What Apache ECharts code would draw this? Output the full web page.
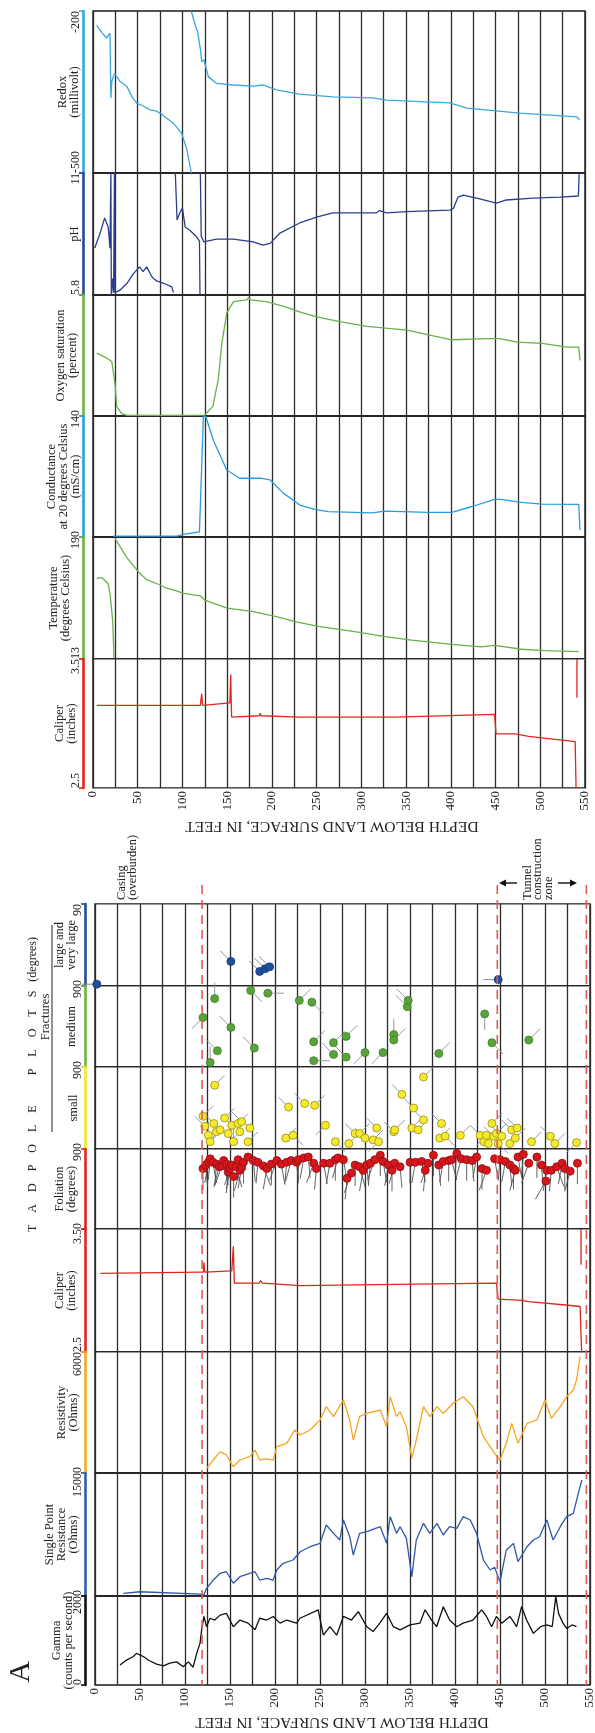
<!DOCTYPE html>
<html><head><meta charset="utf-8">
<script src="https://cdn.jsdelivr.net/npm/echarts@6/dist/echarts.min.js"></script>
<style>html,body{margin:0;padding:0;background:#fff}#c{width:595px;height:1733px}</style>
</head><body><div id="c"></div>
<script>
// ---------------- DATA (depth in feet, value) ----------------
const depthTicks = [0,50,100,150,200,250,300,350,400,450,500,550];
const redoxTicks = [-500,-200];
const phTicks = [5.8,11];
const oxygenTicks = [0];
const conductanceTicks = [0,14];
const temperatureTicks = [13,19];
const caliperTicks = [2.5,3.5];
const tadpoleTicks = [0,90];
const resistivityTicks = [0,6000];
const sprTicks = [0,1500];
const gammaTicks = [0,200];

const redox = [[4,-226],[10,-240],[15,-250],[19,-241],[20,-361],[21,-330],[24,-316],[30,-330],[38,-340],[44,-360],[49,-371],[55,-375],[64,-383],[70,-385],[75,-389],[82,-398],[90,-408],[99,-426],[105,-457],[110,-500],null,[110,-201],[115,-230],[117,-239],[120,-270],[121.5,-294],[124,-290],[129,-322],[138,-334],[157,-337],[179,-339],[190,-337],[205,-346],[231,-354],[268,-359],[313,-361],[328,-365],[399,-370],[406,-374],[418,-380],[477,-389],[541,-396],[544,-402]];
const ph = [[2,7.8],[8,8.44],[13,9.08],[17,8.7],[19,7.8],[20,11],[20.5,5.8],[22,6.5],[23,5.9],[24,11],[24.6,5.9],[30,6.0],[38,6.3],[45,6.7],[52,7.0],[56,6.8],[60,7.0],[66,6.57],[71,6.4],[79,6.3],[88,6.15],[90,5.9],null,[92,11],[94,9.0],[97,9.3],[100,9.5],[103,8.7],[108,8.57],[116,8.27],[119,8.1],[119.6,5.8],null,[120,11],[121,8.3],[124,8.06],[138,8.18],[157,8.18],[179,8.06],[190,7.93],[198,8.0],[209,8.44],[231,8.87],[250,9.12],[268,9.3],[317,9.3],[320,9.4],[328,9.3],[351,9.35],[399,9.42],[403,9.5],[408,9.97],[414,10.06],[429,9.93],[451,9.72],[462,9.85],[492,9.93],[522,9.97],[542.6,10.02],[543.5,11]];
const oxygen = [[4,52],[15,48],[21,45],[24.6,27],[26.5,8],[32,2],[38,0.5],[50,0.5],[52,2],[54,0.5],[100,0.5],[125,0.8],[134,8],[140,30],[144,60],[149.5,85],[157,94.5],[172,96],[174,98],[176,96],[194,94.5],[216,90],[231,86],[250,82],[276,78],[306,74],[351,71],[401,63],[440,64],[455,64],[474,61],[502,60],[530,57],[543,57],[544.4,46]];
const conductance = [[22.7,0.1],[60,0.1],[93.6,0.1],[101,0.3],[119,0.6],[123.4,13.9],[126,13.97],[134.5,11.2],[149.5,7.75],[164,6.8],[187,6.8],[198,6.6],[213,5.05],[226,4.1],[231,3.7],[248,3.2],[263,2.93],[312,2.8],[326,3.0],[375,2.85],[401,2.85],[423,3.5],[449,4.36],[456,4.36],[479,4.0],[502,3.8],[543,3.78],[544.4,0.8]];
const temperature = [[4,16.97],[10,17.0],[17,16.7],[19,16.2],[22,14.9],[23.5,13.05],null,[24.6,18.93],[37.6,18.0],[52.5,17.2],[60,16.9],[75,16.64],[82,16.48],[90,16.4],[101,16.23],[120,16.1],[125,15.9],[150,15.5],[179,15.33],[205,15.08],[227,14.83],[252,14.6],[300,14.3],[326,14.1],[356,13.93],[401,13.72],[434,13.6],[449,13.67],[479,13.48],[505,13.41],[543,13.36]];
const caliperB = [[4,3.14],[101,3.14],[120,3.14],[121.5,3.23],[122.5,3.14],[153,3.16],[154,3.38],[154.5,3.16],[155,3.05],[186,3.06],[187,3.08],[188,3.06],[231,3.05],[338,3.05],[449,3.07],[450.5,2.92],[472,2.92],[487,2.9],[539,2.86],[540,2.5],null,[541,3.5],[541,3.2]];
const caliperA = [[6,3.14],[117,3.15],[120.5,3.15],[121,3.23],[122,3.15],[152,3.16],[153.7,3.36],[154.8,3.06],[182,3.06],[184,3.08],[186,3.06],[228,3.04],[333,3.05],[446,3.06],[448,2.93],[474,2.92],[481.5,2.91],[526,2.88],[539,2.87],[540.7,2.5],null,[540,3.5],[540,3.21]];
const resistivity = [[124,231],[131.5,645],[139,1057],[146,893],[153.7,314],[161,645],[172,810],[177.8,1140],[183,645],[190,700],[198,645],[202,1306],[213,1471],[222,2132],[228,1884],[239,2132],[250,2628],[257,3289],[265,2793],[276,3620],[283,2628],[287,1636],[294,2793],[302,2959],[317,3124],[324,2297],[328,3785],[335,2793],[339,3041],[346,2297],[352,727],[357,1636],[365,3289],[372,2793],[380,3289],[387,2959],[398,3455],[409,3785],[420,3289],[431.5,1801],[439,1306],[444,975],[450,645],[457,1471],[463,2462],[470,1471],[480,2462],[491,2628],[500,3620],[507,2710],[517,3289],[524,3785],[531.5,4116],[535,4612],[539,5767]];
const spr = [[31.5,33],[50,52],[116.7,24],[121,12],[124,94],[131.5,195],[139,277],[146,296],[153.7,155],[161,235],[172,277],[177.8,296],[183,195],[190.7,216],[198,195],[202,317],[209,399],[220,439],[228,540],[239,601],[250,642],[257,866],[265,764],[272,683],[276,927],[283,723],[287,500],[294,764],[302,784],[317,845],[324,642],[328,967],[335,764],[339,845],[346,703],[352,236],[357,683],[365,886],[372,764],[380,886],[387,744],[394,845],[402,825],[409,967],[417,927],[424,764],[431.5,439],[439,317],[444,350],[450,175],[457,561],[465,642],[470,419],[480,601],[487,683],[494,723],[502,927],[509,683],[517,845],[524,967],[531.5,1008],[537,1252],[541,1415]];
const gamma = [[27.8,45],[35,56],[42.6,64],[46,71],[53.7,64],[60,55],[68.5,47],[76,43],[83,49],[90.7,52],[98,41],[103.7,52],[109,40],[113,71],[116.7,94],[118.5,124],[121,154],[124,131],[127.8,150],[133,146],[139,157],[146,161],[153.7,131],[161,146],[170,139],[177.8,124],[183,150],[190.7,146],[198,154],[205.6,139],[213,146],[224,139],[227.8,150],[248,169],[253.7,112],[261,131],[268.5,112],[276,154],[285,146],[292.6,165],[302,131],[309,120],[316,138],[324,161],[331.5,131],[339,124],[350,135],[361,139],[366.7,169],[374,146],[379.6,131],[387,176],[394,146],[402,131],[409,139],[420,146],[429.6,169],[435,154],[440.7,131],[446,154],[452,139],[461,154],[468.5,131],[474,176],[479.6,146],[487,116],[495,131],[502,135],[508,131],[512,199],[515,161],[520,139],[524,127],[530,135],[535,131]];

// tadpoles: [depth, dip (degrees), azimuth (degrees)]
const foliation = [[120,68,270],[123,72,265],[126,75,280],[128,79,275],[131,75,260],[135,73,275],[138,70,285],[141,71,290],[143,77,260],[146,73,265],[148,64,275],[150,68,280],[152,72,290],[154,59,270],[157,70,255],[159,78,270],[161,66,285],[163,69,280],[165,75,270],[170,81,300],[176,77,265],[181,75,275],[187,71,250],[191,68,280],[196,73,270],[202,77,290],[207,73,260],[213,75,275],[218,77,285],[224,75,265],[226,78,270],[232,80,280],[237,81,265],[243,74,290],[246,68,275],[254,74,260],[261,74,280],[267,78,270],[270,80,285],[276,78,260],[280,57,275],[285,63,290],[289,72,270],[294,70,255],[298,66,280],[302,72,265],[306,74,275],[311,78,290],[317,83,270],[320,76,260],[326,72,280],[330,66,270],[333,74,285],[339,70,265],[350,75,270],[356,75,280],[363,76,260],[367,66,275],[370,74,290],[376,83,270],[382,72,265],[387,76,280],[393,77,270],[396,78,255],[402,85,275],[407,79,285],[413,78,270],[419,77,265],[424,81,280],[430,68,270],[435,66,290],[444,79,260],[450,78,275],[456,76,280],[461,72,265],[465,68,270],[467,66,285],[470,81,260],[476,84,275],[482,74,290],[491,81,270],[496,72,265],[502,66,280],[501,54,300],[507,66,275],[513,70,250],[519,74,280],[522,68,270],[528,65,285],[536,74,270]];
const smallFractures = [[120,36,135],[122,25,45],[126,15,90],[128,8,135],[132,28,45],[133,70,135],[135,19,300],[139,21,45],[144,34,135],[148,17,225],[152,26,45],[154,8,90],[159,28,135],[161,19,315],[163,30,45],[170,8,135],[172,23,45],[212,12,135],[215,46,45],[220,15,225],[233,50,45],[244,48,135],[256,26,315],[267,8,225],[282,6,135],[289,17,45],[294,17,135],[300,12,45],[309,10,135],[313,23,45],[315,8,315],[332,19,45],[333,21,135],[341,60,45],[352,23,135],[354,45,45],[359,21,135],[365,32,45],[365,79,135],[383,12,135],[385,28,45],[389,14,225],[406,15,135],[428,15,45],[432,8,135],[435,15,315],[437,6,45],[441,28,135],[443,14,45],[446,17,135],[448,6,225],[452,14,45],[461,6,135],[463,21,45],[467,12,135],[469,23,45],[485,8,135],[506,14,45],[511,6,135],[535,7,315]];
const mediumFractures = [[120,55,315],[128,5,90],[133,76,90],[136,18,45],[151,44,45],[173,85,225],[177,21,45],[192,82,180],[227,74,135],[241,72,225],[243,7,180],[243,28,135],[265,27,135],[265,14,45],[279,34,135],[279,11,45],[300,16,315],[320,16,315],[332,36,90],[332,30,135],[347,67,45],[348,74,45],[382,15,135],[433,59,270],[441,27,225],[482,30,135]];
const largeFractures = [[2,2,0],[151,27,45],[183,16,45],[189,19,45],[194,21,45],[448,7,0]];

const markerDepths = [119,447,546]; // casing bottom, tunnel construction zone

// ---------------- LAYOUT / STYLE ----------------
const FONT = '"Liberation Serif","Times New Roman",serif';
const tracks = [
 {name:'Redox\n(millivolt)', gap:2, top:11,bottom:173,left:93,right:585,min:-500,max:-200,ticks:redoxTicks,axis:'#35a8e0',line:'#3aa7e0',data:redox},
 {name:'pH', gap:2, top:173,bottom:295,left:93,right:585,min:5.8,max:11,ticks:phTicks,axis:'#27479b',line:'#2a3f8f',data:ph},
 {name:'Oxygen saturation\n(percent)', gap:4, top:295,bottom:416,left:93,right:585,min:0,max:100,ticks:oxygenTicks,axis:'#6db33f',line:'#6ab04c',data:oxygen},
 {name:'Conductance\nat 20 degrees Celsius\n(mS/cm)', gap:1, top:416,bottom:537,left:93,right:585,min:0,max:14,ticks:conductanceTicks,axis:'#2a9ee0',line:'#2a9be0',data:conductance},
 {name:'Temperature\n(degrees Celsius)', gap:11, top:537,bottom:659,left:93,right:585,min:13,max:19,ticks:temperatureTicks,axis:'#6db33f',line:'#6ab04c',data:temperature},
 {name:'Caliper\n(inches)', gap:5, top:659,bottom:788,left:93,right:585,min:2.5,max:3.5,step:0.5,ticks:caliperTicks,axis:'#e2231a',line:'#e0261c',data:caliperB,depthLabels:true},
 {name:'large and\nvery large', gap:7, top:904,bottom:986,left:95,right:590,min:0,max:90,step:30,ticks:tadpoleTicks,axis:'#1f4e9c',tad:largeFractures,fill:'#1f4e9c',stroke:'#123a78',tail:'#7a7f8c',len:15},
 {name:'medium', gap:7, top:986,bottom:1067,left:95,right:590,min:0,max:90,step:30,ticks:tadpoleTicks,axis:'#6db33f',tad:mediumFractures,fill:'#5aa33a',stroke:'#3f7f27',tail:'#8a8c9c',len:16},
 {name:'small', gap:5, top:1067,bottom:1149,left:95,right:590,min:0,max:90,step:30,ticks:tadpoleTicks,axis:'#f2e829',tad:smallFractures,fill:'#f5ea2e',stroke:'#9a8f10',tail:'#7f8fb0',len:14},
 {name:'Foliation\n(degrees)', gap:7, top:1149,bottom:1229,left:95,right:590,min:0,max:90,step:30,ticks:tadpoleTicks,axis:'#e2231a',tad:foliation,fill:'#d7161c',stroke:'#8e0d10',tail:'#4d5552',len:21},
 {name:'Caliper\n(inches)', gap:7, top:1229,bottom:1352,left:95,right:590,min:2.5,max:3.5,step:0.5,ticks:caliperTicks,axis:'#e2231a',line:'#e0261c',data:caliperA},
 {name:'Resistivity\n(Ohms)', gap:5, top:1352,bottom:1473,left:95,right:590,min:0,max:6000,ticks:resistivityTicks,axis:'#f7a823',line:'#f5a623',data:resistivity},
 {name:'Single Point\nResistance\n(Ohms)', gap:5, top:1473,bottom:1596,left:95,right:590,min:0,max:1500,ticks:sprTicks,axis:'#2b5fad',line:'#2f58a8',data:spr},
 {name:'Gamma\n(counts per second)', gap:10, top:1596,bottom:1685,left:95,right:590,min:0,max:200,ticks:gammaTicks,axis:'#111',line:'#111',data:gamma,depthLabels:true}
];

const grids=[], xAxes=[], yAxes=[], series=[];
tracks.forEach((t,i)=>{
  grids.push({left:t.left,width:t.right-t.left,top:t.top,height:t.bottom-t.top,show:true,borderColor:'#1a1a1a',borderWidth:1.4,backgroundColor:'transparent',containLabel:false,outerBoundsMode:'none'});
  xAxes.push({gridIndex:i,type:'value',min:0,max:550,interval:25,
    axisLine:{show:false},axisTick:{show:false},
    axisLabel:{show:!!t.depthLabels,customValues:depthTicks,rotate:90,margin:3,fontSize:13,fontFamily:FONT,color:'#222',formatter:v=>String(v)},
    splitLine:{show:true,lineStyle:{color:'#2b2b2b',width:1.3}}});
  yAxes.push({gridIndex:i,type:'value',min:t.min,max:t.max,interval:t.step||(t.max-t.min),position:'left',offset:10,
    axisLine:{show:true,onZero:false,lineStyle:{color:t.axis,width:2.6}},
    axisTick:{show:true,customValues:[t.min,t.max],length:4,lineStyle:{color:t.axis,width:1.6}},
    axisLabel:{show:true,customValues:t.ticks,rotate:90,margin:1,fontSize:12,fontFamily:FONT,color:'#222',alignMinLabel:'left',alignMaxLabel:'right',formatter:v=>String(v)},
    splitLine:{show:!!t.step,lineStyle:{color:'#9a9a9a',width:1.2}},
    name:t.name,nameLocation:'middle',nameRotate:90,nameGap:t.gap,nameMoveOverlap:false,
    nameTextStyle:{fontFamily:FONT,fontSize:12.5,color:'#222',lineHeight:12}});
  if(t.data){
    series.push({type:'line',xAxisIndex:i,yAxisIndex:i,data:t.data,showSymbol:false,symbol:'none',connectNulls:false,
      lineStyle:{color:t.line,width:1.3},z:3});
  }
  if(t.tad){
    series.push({type:'custom',xAxisIndex:i,yAxisIndex:i,data:t.tad,z:3,clip:false,
      renderItem:(params,api)=>{
        const p=api.coord([api.value(0),api.value(1)]);
        const a=api.value(2)*Math.PI/180;
        return {type:'line',shape:{x1:p[0],y1:p[1],x2:p[0]-Math.cos(a)*t.len,y2:p[1]-Math.sin(a)*t.len},style:{stroke:t.tail,lineWidth:0.9}};
      }});
    series.push({type:'scatter',xAxisIndex:i,yAxisIndex:i,data:t.tad.map(d=>[d[0],d[1]]),symbol:'circle',symbolSize:8,z:4,
      itemStyle:{color:t.fill,borderColor:t.stroke,borderWidth:0.8,opacity:1}});
  }
});

// overlay grid for dashed depth markers (casing / tunnel zone)
const ov = grids.length;
grids.push({left:95,width:495,top:885,height:800,show:false,containLabel:false,outerBoundsMode:'none'});
xAxes.push({gridIndex:ov,type:'value',min:0,max:550,show:false});
yAxes.push({gridIndex:ov,type:'value',min:0,max:1,show:false});
series.push({type:'custom',xAxisIndex:ov,yAxisIndex:ov,data:markerDepths.map(d=>[d]),z:5,
  renderItem:(params,api)=>{
    const a=api.coord([api.value(0),1]), b=api.coord([api.value(0),0]);
    return {type:'line',shape:{x1:a[0],y1:a[1],x2:b[0],y2:b[1]},style:{stroke:'#e05a55',lineWidth:1.6,lineDash:[9,6]}};
  }});

const txt=(text,x,y,rot,size,align,valign)=>({type:'text',x,y,rotation:rot,z:10,
  style:{text,fill:'#222',font:size+'px '+FONT,align,verticalAlign:valign}});
const graphic=[
  txt('DEPTH BELOW LAND SURFACE, IN FEET',332,826,Math.PI,15.5,'center','middle'),
  txt('DEPTH BELOW LAND SURFACE, IN FEET',342,1722,Math.PI,15.5,'center','middle'),
  txt('A',21,1672,Math.PI/2,30,'center','middle'),
  txt('T    A    D    P    O    L    E          P    L    O    T    S   (degrees)',33,1232,Math.PI/2,12,'left','middle'),
  txt('Fractures',46,1017,Math.PI/2,12.5,'center','middle'),
  {type:'line',shape:{x1:52,y1:925,x2:52,y2:1132},style:{stroke:'#222',lineWidth:1},z:10},
  {type:'text',x:127,y:900,rotation:Math.PI/2,z:10,style:{text:'Casing\n(overburden)',fill:'#222',font:'12.5px '+FONT,align:'left',verticalAlign:'middle',lineHeight:11}},
  {type:'text',x:538,y:900,rotation:Math.PI/2,z:10,style:{text:'Tunnel\nconstruction\nzone',fill:'#222',font:'12.5px '+FONT,align:'left',verticalAlign:'middle',lineHeight:10.5}},
  {type:'polyline',shape:{points:[[517,883],[503,883]]},style:{stroke:'#111',lineWidth:1.4},z:10},
  {type:'polygon',shape:{points:[[499,883],[506,879.5],[506,886.5]]},style:{fill:'#111'},z:10},
  {type:'polyline',shape:{points:[[558,883],[573,883]]},style:{stroke:'#111',lineWidth:1.4},z:10},
  {type:'polygon',shape:{points:[[577,883],[570,879.5],[570,886.5]]},style:{fill:'#111'},z:10}
];

const chart = echarts.init(document.getElementById('c'),null,{renderer:'canvas'});
chart.setOption({animation:false,backgroundColor:'#fff',textStyle:{fontFamily:FONT},
  grid:grids,xAxis:xAxes,yAxis:yAxes,series,graphic});
</script></body></html>
